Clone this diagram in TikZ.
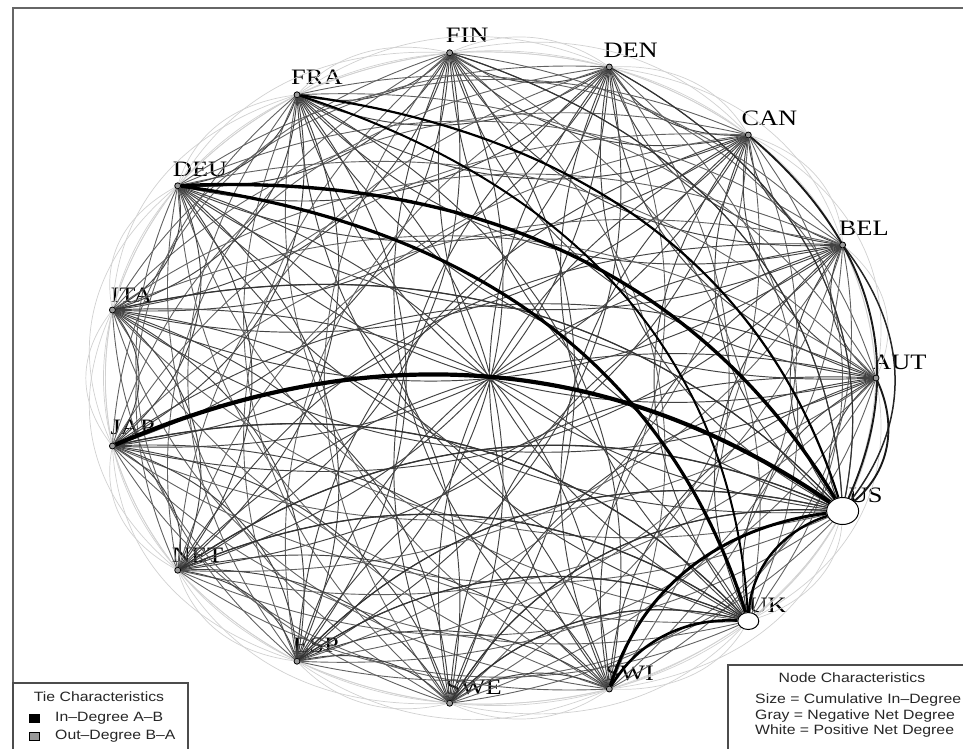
\documentclass[tikz,border=0pt]{standalone}
\usepackage{fontspec}
\setmainfont{Liberation Serif}
\newfontfamily\legfont{Liberation Sans}
\usetikzlibrary{shapes.geometric}
\pgfdeclarelayer{lab}
\pgfdeclarelayer{edges}
\pgfsetlayers{lab,edges,main}
\tikzset{
  smallnode/.style={circle,draw=black,fill=black!40,line width=0.8pt,inner sep=0pt,minimum size=6pt},
  usnode/.style={ellipse,draw=black,fill=white,line width=1pt,inner sep=0pt,minimum width=32pt,minimum height=27pt},
  uknode/.style={ellipse,draw=black,fill=white,line width=1pt,inner sep=0pt,minimum width=21pt,minimum height=17pt},
  cname/.style={anchor=base west,inner sep=0pt,text=black,font=\fontsize{22}{22}\selectfont,xscale=1.2},
  tiefaint/.style={draw=black!18,line width=0.7pt},
  tieout/.style={draw=black!62,line width=0.9pt},
  tiein/.style={draw=black!74,line width=0.95pt},
  frameline/.style={draw=black!60,line width=1.6pt},
  boxline/.style={draw=black!70,line width=1.2pt},
  legtxt/.style={inner sep=0pt,text=black!85,font=\legfont\fontsize{13.5}{14}\selectfont,xscale=1.17},
  legkey/.style={draw=black,line width=0.8pt,inner sep=0pt,minimum width=10pt,minimum height=8pt}
}
% quadratic tie (bending to the left of its direction) written as a cubic
\newcommand\tieCtrl[2]{%
  \pgfmathsetmacro\xi{sin(-6+24*#1)}%
  \pgfmathsetmacro\yi{cos(-6+24*#1)}%
  \pgfmathsetmacro\xj{sin(-6+24*#2)}%
  \pgfmathsetmacro\yj{cos(-6+24*#2)}%
  \pgfmathsetmacro\qx{((\xi)+(\xj))/2-0.325*((\yj)-(\yi))}%
  \pgfmathsetmacro\qy{((\yi)+(\yj))/2+0.325*((\xj)-(\xi))}%
  \pgfmathsetmacro\ax{(\xi)/3+2*(\qx)/3}%
  \pgfmathsetmacro\ay{(\yi)/3+2*(\qy)/3}%
  \pgfmathsetmacro\bx{(\xj)/3+2*(\qx)/3}%
  \pgfmathsetmacro\by{(\yj)/3+2*(\qy)/3}%
}
\begin{document}
\begin{tikzpicture}[x=1pt,y=-1pt]
\useasboundingbox (0,0) rectangle (963,749);
\begin{scope}[shift={(490,378)},x=386pt,y=327pt]
  \foreach \nm/\sty/\dx/\dy [count=\c from 0] in {FIN/smallnode/-4/10,DEN/smallnode/-6/10,CAN/smallnode/-7/9,BEL/smallnode/-4/9,AUT/smallnode/-4/9,US/usnode/6/9,UK/uknode/0/9,SWI/smallnode/-4/9,SWE/smallnode/-4/9,ESP/smallnode/-4/9,NET/smallnode/-6/8,JAP/smallnode/-2/11,ITA/smallnode/-2/8,DEU/smallnode/-5/9,FRA/smallnode/-6/10}{
    \pgfmathsetmacro\ang{-6+24*\c}
    \node[\sty] (n\c) at ({sin(\ang)},{cos(\ang)}) {};
    \begin{pgfonlayer}{lab}
      \node[cname] (t\c) at ([shift={(\dx pt,\dy pt)}]n\c.center) {\nm};
    \end{pgfonlayer}
  }
  \begin{pgfonlayer}{edges}
    \foreach \pass in {1,2}{
      \foreach \i in {0,...,14}{
        \foreach \j in {0,...,14}{
          \ifnum\i=\j\relax\else
            \pgfmathtruncatemacro\dd{mod(\j-\i+15,15)}
            \ifnum\dd<4 \def\est{tiefaint}\def\ps{1}\else
              \ifnum\dd<8 \def\est{tieout}\else\def\est{tiein}\fi
              \def\ps{2}\fi
            \ifnum\ps=\pass
              \tieCtrl{\i}{\j}
              \draw[\est] (n\i) .. controls (\ax,\ay) and (\bx,\by) .. (n\j);
            \fi
          \fi
        }
      }
    }
    \foreach \i/\j/\w/\col in {0/5/1.2/black!80,1/5/1.2/black!80,8/5/1.2/black!80,9/5/1.2/black!80,10/5/1.3/black!80,12/5/1.2/black!80,10/6/1.3/black!80,11/6/1.3/black!80,9/6/1.2/black!80,8/6/1.2/black!80,3/5/1.5/black!85,2/5/1.9/black!90,4/5/1.9/black!90,6/5/2.4/black,14/6/2.0/black,14/5/2.2/black,7/6/2.6/black,7/5/3.0/black,13/6/3.2/black,13/5/3.4/black,11/5/4.2/black}{
      \tieCtrl{\i}{\j}
      \draw[draw=\col,line width=\w pt] (n\i) .. controls (\ax,\ay) and (\bx,\by) .. (n\j);
    }
  \end{pgfonlayer}
\end{scope}
% frame
\draw[frameline] (13,770) |- (990,8);
% tie legend
\draw[boxline] (13,770) |- (188,683) -- (188,770);
\node[legtxt] (tiehead) at (99,697) {Tie Characteristics};
\node[legkey,fill=black] (kin) at (34,718) {};
\node[legtxt,anchor=west] (tin) at (55,718) {In–Degree A–B};
\node[legkey,fill=black!40] (kout) at (34,736) {};
\node[legtxt,anchor=west] (tout) at (55,736) {Out–Degree B–A};
% node legend
\draw[boxline] (728,770) |- (990,665);
\node[legtxt] (nodehead) at (852,678) {Node Characteristics};
\node[legtxt,anchor=west] (lsize) at (755,700) {Size = Cumulative In–Degree};
\node[legtxt,anchor=west] (lgray) at (755,716) {Gray = Negative Net Degree};
\node[legtxt,anchor=west] (lwhite) at (755,731) {White = Positive Net Degree};
\end{tikzpicture}
\end{document}
